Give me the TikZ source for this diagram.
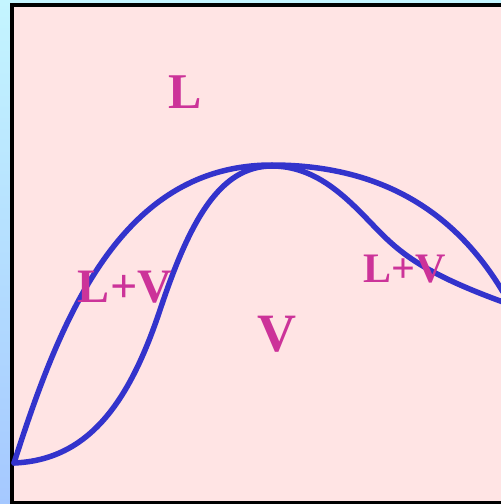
\documentclass[tikz,border=0pt]{standalone}
\usepackage{fontspec}
\setmainfont{Liberation Serif}
\definecolor{bgpink}{RGB}{255,228,228}
\definecolor{curveblue}{RGB}{51,51,204}
\definecolor{labelmag}{RGB}{204,51,153}
\definecolor{stripTop}{RGB}{196,245,255}
\definecolor{stripBot}{RGB}{165,200,255}
\tikzset{
  phase/.style={text=labelmag, inner sep=0pt, font=\bfseries},
  curve/.style={draw=curveblue, line width=5.5pt, line cap=round, line join=round}
}
\begin{document}
\begin{tikzpicture}[x=1pt,y=1pt]
\useasboundingbox (0,0) rectangle (501,504);
\clip (0,0) rectangle (501,504);
\shade[top color=stripTop, bottom color=stripBot] (0,0) rectangle (501,504);
\draw[fill=bgpink, line width=4pt, draw=black] (12,1) rectangle (510,499);
% outer curve
\coordinate (start) at (14,41);
\coordinate (top) at (272,339);
\coordinate (outR) at (503,212);
\coordinate (inR) at (503,202);
\draw[curve] (start) .. controls (60,184) and (120,339) .. (top)
  .. controls (390,339) and (460,284) .. (outR);
% inner curve
\coordinate (mL) at (160,194);
\coordinate (mR) at (370,282);
\draw[curve] (start) .. controls (90,44) and (130,104) .. (mL)
  .. controls (190,284) and (220,338) .. (272,338)
  .. controls (315,338) and (345,308) .. (mR)
  .. controls (395,256) and (415,234) .. (inR);
\node[phase, font=\bfseries\fontsize{50}{50}\selectfont] (lab-L) at (185,412) {L};
\node[phase, font=\bfseries\fontsize{48}{48}\selectfont] (lab-LV1) at (125,217) {L+V};
\node[phase, font=\bfseries\fontsize{42}{42}\selectfont] (lab-LV2) at (405,235) {L+V};
\node[phase, font=\bfseries\fontsize{54}{54}\selectfont] (lab-V) at (277,170) {V};
\end{tikzpicture}
\end{document}
